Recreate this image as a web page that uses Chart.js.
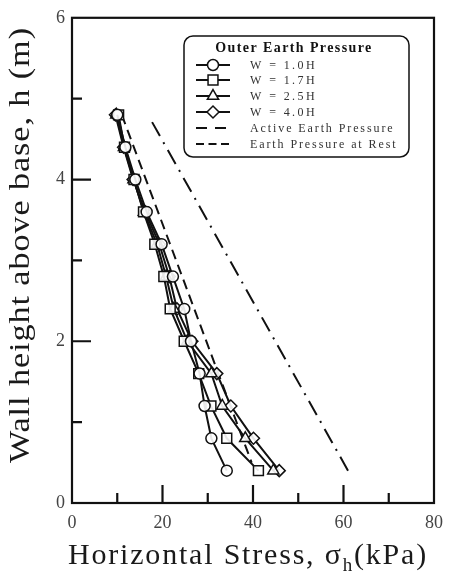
<!DOCTYPE html>
<html>
<head>
<meta charset="utf-8">
<script src="https://cdn.jsdelivr.net/npm/chart.js@4.4.1/dist/chart.umd.min.js"></script>
<style>
  html, body { margin: 0; padding: 0; background: #fff; }
  canvas { display: block; }
</style>
</head>
<body>
<canvas id="stressChart" width="452" height="587"></canvas>
<script>
// alturas dos pontos medidos (m)
const heights = [4.8, 4.4, 4.0, 3.6, 3.2, 2.8, 2.4, 2.0, 1.6, 1.2, 0.8, 0.4];

// tensão horizontal (kPa) para cada largura W
const stressW10 = [10.0, 11.8, 14.0, 16.5, 19.8, 22.3, 24.8, 26.3, 28.2, 29.3, 30.8, 34.2];
const stressW17 = [10.3, 11.6, 13.7, 15.8, 18.3, 20.3, 21.7, 24.8, 28.0, 30.7, 34.2, 41.2];
const stressW25 = [9.8, 11.5, 13.6, 15.9, 18.8, 20.8, 22.5, 25.5, 30.8, 33.2, 38.3, 44.5];
const stressW40 = [9.6, 11.4, 13.5, 16.2, 19.3, 21.5, 23.2, 26.5, 32.0, 35.1, 40.1, 45.8];

// linhas teóricas (extremos)
const activeX = [11.0, 39.7];
const activeY = [4.8, 0.5];
const restX = [17.7, 61.0];
const restY = [4.71, 0.4];

const seriesLabels = ["W = 1.0H", "W = 1.7H", "W = 2.5H", "W = 4.0H"];
const lineLabels = ["Active Earth Pressure", "Earth Pressure at Rest"];
const legendTitle = "Outer Earth Pressure";

const xTicks = [0, 20, 40, 60, 80];
const yTicks = [0, 2, 4, 6];

const SERIF = '"Liberation Serif", "DejaVu Serif", serif';

function toPoints(xs, ys) {
    return xs.map((v, i) => ({ x: v, y: ys[i] }));
}

function seriesDataset(label, values, style, radius) {
    return {
        label: label,
        data: toPoints(values, heights),
        showLine: true,
        borderColor: "#111",
        borderWidth: 2,
        pointStyle: style,
        pointRadius: radius,
        pointBackgroundColor: "rgba(255,255,255,0.9)",
        pointBorderColor: "#111",
        pointBorderWidth: 1.5,
        fill: false
    };
}

// moldura, marcas internas, títulos e legenda
const decorPlugin = {
    id: "decor",
    afterDraw(chart) {
        const ctx = chart.ctx;
        const a = chart.chartArea;
        const xs = chart.scales.x;
        const ys = chart.scales.y;
        ctx.save();
        ctx.strokeStyle = "#111";
        ctx.lineWidth = 2.2;
        ctx.strokeRect(a.left, a.top, a.right - a.left, a.bottom - a.top);

        ctx.beginPath();
        for (let v = 10; v < 80; v += 10) {
            const px = xs.getPixelForValue(v);
            const len = v % 20 === 0 ? 18 : 10;
            ctx.moveTo(px, a.bottom);
            ctx.lineTo(px, a.bottom - len);
        }
        for (let v = 1; v < 6; v += 1) {
            const py = ys.getPixelForValue(v);
            const len = v % 2 === 0 ? 19 : 10;
            ctx.moveTo(a.left, py);
            ctx.lineTo(a.left + len, py);
        }
        ctx.stroke();

        // título eixo x com subscrito
        ctx.fillStyle = "#1a1a1a";
        ctx.textBaseline = "alphabetic";
        ctx.textAlign = "left";
        const mainFont = "30px " + SERIF;
        const subFont = "19px " + SERIF;
        const p1 = "Horizontal Stress, \u03c3";
        const p2 = "h";
        const p3 = "(kPa)";
        ctx.letterSpacing = "1.8px";
        ctx.font = mainFont;
        const w1 = ctx.measureText(p1).width;
        const w3 = ctx.measureText(p3).width;
        ctx.font = subFont;
        const w2 = ctx.measureText(p2).width;
        const total = w1 + w2 + w3;
        let tx = 248 - total / 2;
        const base = 564;
        ctx.font = mainFont;
        ctx.fillText(p1, tx, base);
        ctx.font = subFont;
        ctx.fillText(p2, tx + w1, base + 7);
        ctx.font = mainFont;
        ctx.fillText(p3, tx + w1 + w2, base);

        // título eixo y (alongado como no original)
        ctx.save();
        ctx.translate(21, 245);
        ctx.rotate(-Math.PI / 2);
        ctx.scale(1.14, 1);
        ctx.textAlign = "center";
        ctx.textBaseline = "middle";
        ctx.letterSpacing = "0.8px";
        ctx.font = "30px " + SERIF;
        ctx.fillText("Wall height above base, h (m)", 0, 0);
        ctx.restore();

        // legenda
        const bx = 184, by = 36, bw = 225, bh = 121;
        ctx.letterSpacing = "0px";
        ctx.lineWidth = 1.5;
        ctx.strokeStyle = "#111";
        ctx.beginPath();
        ctx.roundRect(bx, by, bw, bh, 9);
        ctx.fillStyle = "#fff";
        ctx.fill();
        ctx.stroke();

        ctx.fillStyle = "#111";
        ctx.font = "bold 14px " + SERIF;
        ctx.textAlign = "center";
        ctx.textBaseline = "middle";
        ctx.letterSpacing = "1.4px";
        ctx.fillText(legendTitle, 294, 48);

        const rows = [65, 80, 96, 112, 128, 144];
        const sets = chart.data.datasets;
        ctx.textAlign = "left";
        ctx.font = "12px " + SERIF;
        for (let i = 0; i < 6; i++) {
            const ry = rows[i];
            ctx.letterSpacing = "0px";
            ctx.strokeStyle = "#111";
            ctx.lineWidth = 2;
            ctx.beginPath();
            if (i < 4) {
                ctx.setLineDash([]);
            } else if (i === 4) {
                ctx.setLineDash([11, 8]);
            } else {
                ctx.setLineDash([8, 4.5]);
            }
            ctx.moveTo(196, ry);
            ctx.lineTo(230, ry);
            ctx.stroke();
            ctx.setLineDash([]);
            if (i < 4) {
                ctx.fillStyle = "#fff";
                ctx.lineWidth = 1.5;
                Chart.helpers.drawPoint(ctx, {
                    pointStyle: sets[i].pointStyle,
                    rotation: 0,
                    radius: sets[i].pointRadius,
                    borderWidth: 1.5
                }, 213, ry);
            }
            ctx.fillStyle = "#333";
            ctx.letterSpacing = i < 4 ? "2.4px" : "1.9px";
            const txt = i < 4 ? seriesLabels[i] : lineLabels[i - 4];
            ctx.fillText(txt, 250, ry + 1);
        }
        ctx.restore();
    }
};

function createChart() {
    const ctx = document.getElementById("stressChart").getContext("2d");
    window.stressChart = new Chart(ctx, {
        type: "scatter",
        data: {
            datasets: [
                seriesDataset(seriesLabels[0], stressW10, "circle", 5.5),
                seriesDataset(seriesLabels[1], stressW17, "rect", 7),
                seriesDataset(seriesLabels[2], stressW25, "triangle", 6.5),
                seriesDataset(seriesLabels[3], stressW40, "rectRot", 6),
                {
                    label: lineLabels[0],
                    data: toPoints(activeX, activeY),
                    showLine: true,
                    borderColor: "#111",
                    borderWidth: 2,
                    borderDash: [10, 6],
                    pointRadius: 0
                },
                {
                    label: lineLabels[1],
                    data: toPoints(restX, restY),
                    showLine: true,
                    borderColor: "#111",
                    borderWidth: 2,
                    borderDash: [16, 7, 2, 7],
                    pointRadius: 0
                }
            ]
        },
        options: {
            responsive: false,
            animation: false,
            layout: { padding: { top: 13, right: 15, left: 0, bottom: 0 } },
            plugins: {
                legend: { display: false },
                tooltip: { enabled: false }
            },
            scales: {
                x: {
                    type: "linear",
                    min: 0,
                    max: 80,
                    afterFit: s => { s.height = 84; },
                    afterBuildTicks: s => { s.ticks = xTicks.map(v => ({ value: v })); },
                    grid: { display: false, drawTicks: false },
                    border: { display: false },
                    ticks: {
                        padding: 9,
                        color: "#444",
                        font: { family: SERIF, size: 18 }
                    }
                },
                y: {
                    type: "linear",
                    min: 0,
                    max: 6,
                    afterFit: s => { s.width = 72; },
                    afterBuildTicks: s => { s.ticks = yTicks.map(v => ({ value: v })); },
                    grid: { display: false, drawTicks: false },
                    border: { display: false },
                    ticks: {
                        padding: 7,
                        color: "#444",
                        font: { family: SERIF, size: 18 }
                    }
                }
            }
        },
        plugins: [decorPlugin]
    });
}

window.onload = createChart;
</script>
</body>
</html>
